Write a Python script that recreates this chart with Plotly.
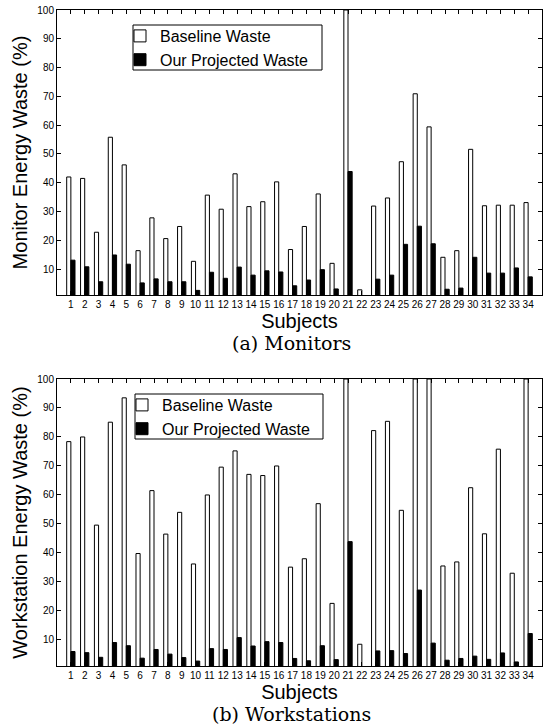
import plotly.graph_objects as go

# ---- data ----
subjects = list(range(1, 35))

# values above 100 are clipped by the axis in the reference
monitor_baseline = [42.0, 41.5, 22.8, 55.8, 46.2, 16.4, 27.8, 20.6, 24.8, 12.7,
                    35.7, 30.8, 43.1, 31.7, 33.4, 40.3, 16.8, 24.8, 36.1, 12.0,
                    100.0, 2.8, 31.9, 34.7, 47.3, 70.9, 59.4, 14.1, 16.4, 51.6,
                    32.0, 32.2, 32.2, 33.1]
monitor_projected = [13.1, 10.8, 5.6, 14.9, 11.7, 5.2, 6.6, 5.6, 5.6, 2.6,
                     8.9, 6.8, 10.7, 7.9, 9.4, 9.0, 4.2, 6.2, 9.8, 3.1,
                     43.9, 0.0, 6.5, 7.9, 18.6, 24.9, 18.8, 3.0, 3.4, 14.1,
                     8.6, 8.6, 10.4, 7.3]

workstation_baseline = [78.4, 80.0, 49.6, 85.1, 93.5, 39.8, 61.5, 46.5, 54.0, 36.2,
                        60.0, 69.6, 75.2, 67.1, 66.7, 70.0, 35.1, 38.0, 57.0, 22.6,
                        100.0, 8.5, 82.2, 85.4, 54.7, 100.0, 100.0, 35.5, 36.9, 62.5,
                        46.6, 75.8, 33.0, 100.0]
workstation_projected = [6.0, 5.6, 4.0, 9.1, 8.0, 3.7, 6.7, 5.1, 3.9, 2.7,
                         7.0, 6.7, 10.8, 7.9, 9.4, 9.1, 3.6, 2.8, 8.0, 3.2,
                         43.9, 0.0, 6.2, 6.3, 5.3, 27.2, 8.9, 3.0, 3.6, 4.4,
                         3.3, 5.5, 2.4, 12.2]

y_ticks = [10, 20, 30, 40, 50, 60, 70, 80, 90, 100]
x_ticks = subjects
series_names = ["Baseline Waste", "Our Projected Waste"]
panel_titles = ["Monitor Energy Waste (%)", "Workstation Energy Waste (%)"]
captions = ["(a) Monitors", "(b) Workstations"]

# ---- styling ----
W, H = 548, 727
SANS = "Liberation Sans, Arial, Helvetica, sans-serif"
SERIF = "DejaVu Serif, Liberation Serif, serif"

def px_y(y):
    return 1 - y / H

def px_x(x):
    return x / W

fig = go.Figure()

panels = [
    dict(base=monitor_baseline, proj=monitor_projected, xa="x", ya="y", lg="legend"),
    dict(base=workstation_baseline, proj=workstation_projected, xa="x2", ya="y2", lg="legend2"),
]
for p in panels:
    fig.add_trace(go.Bar(
        x=subjects, y=p["base"], name=series_names[0],
        marker=dict(color="white", line=dict(color="black", width=1)),
        xaxis=p["xa"], yaxis=p["ya"], legend=p["lg"], offsetgroup="a",
    ))
    fig.add_trace(go.Bar(
        x=subjects, y=p["proj"], name=series_names[1],
        marker=dict(color="black", line=dict(color="black", width=1)),
        xaxis=p["xa"], yaxis=p["ya"], legend=p["lg"], offsetgroup="b",
    ))

xdom = [px_x(57), px_x(542)]
top_dom = [px_y(295), px_y(10)]
bot_dom = [px_y(666), px_y(379)]

def xaxis_cfg(anchor):
    return dict(
        domain=xdom, anchor=anchor, range=[0, 35],
        tickmode="array", tickvals=x_ticks, ticktext=[str(v) for v in x_ticks],
        ticks="inside", ticklen=4, tickwidth=1, tickcolor="black",
        showline=True, linecolor="black", linewidth=1, mirror="ticks",
        showgrid=False, zeroline=False, automargin=False,
        tickfont=dict(family=SANS, size=10, color="black"),
        title=dict(text="Subjects", font=dict(family=SANS, size=20, color="black"), standoff=0),
    )

def yaxis_cfg(anchor, dom, title):
    return dict(
        domain=dom, anchor=anchor, range=[1, 100],
        tickmode="array", tickvals=y_ticks, ticktext=[str(v) for v in y_ticks],
        ticks="inside", ticklen=4, tickwidth=1, tickcolor="black",
        showline=True, linecolor="black", linewidth=1, mirror="ticks",
        showgrid=False, zeroline=False, automargin=False,
        tickfont=dict(family=SANS, size=10, color="black"),
        title=dict(text=title, font=dict(family=SANS, size=20, color="black"), standoff=4),
    )

legend_common = dict(
    xanchor="left", yanchor="top", bgcolor="rgba(0,0,0,0)",
    borderwidth=0,
    font=dict(family=SANS, size=16, color="black"),
    itemwidth=30, tracegroupgap=0, traceorder="normal",
    itemclick=False, itemdoubleclick=False,
)

# legend frames (white boxes with black border behind the legend entries)
legend_boxes = [(133, 25, 322, 70), (135, 394, 323, 439)]
shapes = [
    dict(type="rect", xref="paper", yref="paper", layer="above",
         x0=px_x(x0), x1=px_x(x1), y0=px_y(y1), y1=px_y(y0),
         fillcolor="white", line=dict(color="black", width=1))
    for (x0, y0, x1, y1) in legend_boxes
]

fig.update_layout(
    width=W, height=H,
    margin=dict(l=0, r=0, t=0, b=0),
    paper_bgcolor="white", plot_bgcolor="white",
    barmode="group", bargap=0.4, bargroupgap=0.0,
    xaxis=xaxis_cfg("y"),
    yaxis=yaxis_cfg("x", top_dom, panel_titles[0]),
    xaxis2=xaxis_cfg("y2"),
    yaxis2=yaxis_cfg("x2", bot_dom, panel_titles[1]),
    legend=dict(x=px_x(120), y=px_y(19), **legend_common),
    legend2=dict(x=px_x(122), y=px_y(388), **legend_common),
    shapes=shapes,
    annotations=[
        dict(text=captions[0], xref="paper", yref="paper", x=px_x(291), y=px_y(343),
             xanchor="center", yanchor="middle", showarrow=False,
             font=dict(family=SERIF, size=19, color="black")),
        dict(text=captions[1], xref="paper", yref="paper", x=px_x(291), y=px_y(714),
             xanchor="center", yanchor="middle", showarrow=False,
             font=dict(family=SERIF, size=19, color="black")),
    ],
)

fig.write_html(
    "out.html",
    config={"displayModeBar": False},
    post_script="document.body.style.margin='0';document.body.style.overflow='hidden';",
)
